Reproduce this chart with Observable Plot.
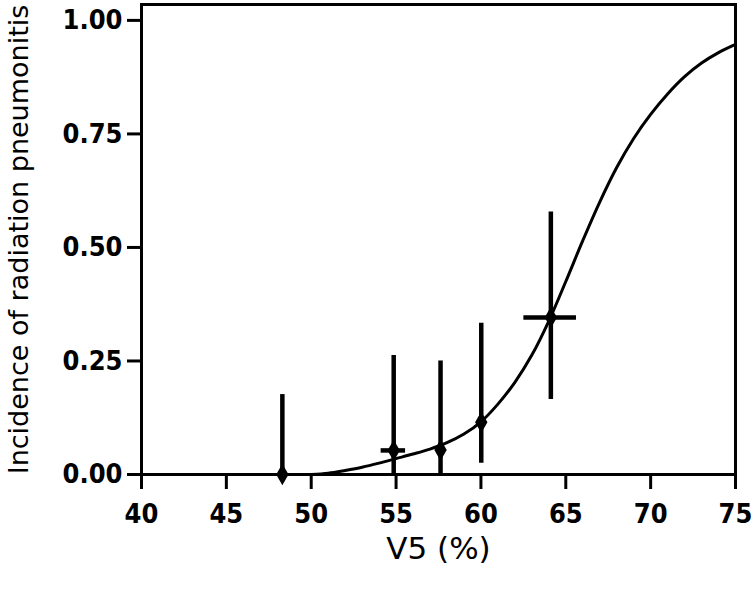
<!DOCTYPE html>
<html>
<head>
<meta charset="utf-8">
<script src="https://cdn.jsdelivr.net/npm/d3@7"></script>
<script src="https://cdn.jsdelivr.net/npm/@observablehq/plot@0.6"></script>
<style>
  html, body { margin: 0; padding: 0; background: #fff; }
  #chart svg { display: block; }
</style>
</head>
<body>
<div id="chart"></div>
<script>
// Observed groups (V5 %, incidence) with error ranges
const pointX    = [48.3, 54.86, 57.62, 60.02, 64.12];
const pointY    = [0.0, 0.053, 0.054, 0.115, 0.346];
const errLow    = [0.0, 0.0, 0.0, 0.025, 0.165];
const errHigh   = [0.176, 0.262, 0.25, 0.333, 0.578];
const xErrLow   = [null, 54.12, null, null, 62.53];
const xErrHigh  = [null, 55.56, null, null, 65.63];

// Fitted curve
const curveX = [50, 51, 52, 53, 54, 55, 56, 57, 58, 59, 60, 61, 62, 63, 64, 65, 66, 67, 68, 69, 70, 71, 72, 73, 74, 75];
const curveY = [0.000, 0.003, 0.009, 0.016, 0.025, 0.035, 0.045, 0.056, 0.070, 0.089, 0.116, 0.155, 0.203, 0.263, 0.338, 0.425, 0.515, 0.600, 0.676, 0.740, 0.793, 0.838, 0.876, 0.906, 0.929, 0.947];

const xTicks = [40, 45, 50, 55, 60, 65, 70, 75];
const yTicks = [0, 0.25, 0.5, 0.75, 1.0];
const xTitle = "V5 (%)";
const yTitle = "Incidence of radiation pneumonitis";

const points = pointX.map((x, i) => ({x, y: pointY[i], lo: errLow[i], hi: errHigh[i], xlo: xErrLow[i], xhi: xErrHigh[i]}));
const xBars = points.filter(d => d.xlo != null);
const curve = curveX.map((x, i) => ({x, y: curveY[i]}));

const tickFont = "'DejaVu Sans Condensed', 'DejaVu Sans', sans-serif";
const titleFont = "'DejaVu Sans', Verdana, sans-serif";

const chart = Plot.plot({
  width: 756,
  height: 590,
  marginLeft: 141,
  marginRight: 21,
  marginTop: 4,
  marginBottom: 116,
  style: {background: "#fff", color: "#000"},
  x: {domain: [40, 75]},
  y: {domain: [0, 1.035]},
  marks: [
    Plot.frame({stroke: "#000", strokeWidth: 3}),
    Plot.axisX({ticks: xTicks, tickFormat: d => String(d), tickSize: 15, tickPadding: 14, strokeWidth: 3,
      fontSize: 27, fontWeight: "bold", fontFamily: tickFont, label: null}),
    Plot.axisY({ticks: yTicks, tickFormat: d3.format(".2f"), tickSize: 14, tickPadding: 5, strokeWidth: 3,
      fontSize: 27, fontWeight: "bold", fontFamily: tickFont, label: null}),
    Plot.line(curve, {x: "x", y: "y", curve: "catmull-rom", stroke: "#000", strokeWidth: 3}),
    Plot.ruleX(points, {x: "x", y1: "lo", y2: "hi", stroke: "#000", strokeWidth: 4.5}),
    Plot.ruleY(xBars, {y: "y", x1: "xlo", x2: "xhi", stroke: "#000", strokeWidth: 4.5}),
    Plot.dot(points, {x: "x", y: "y", symbol: "diamond", r: 6.5, fill: "#000", stroke: "none"}),
    Plot.text([xTitle], {frameAnchor: "bottom", dy: 84, lineAnchor: "bottom", textAnchor: "middle", fontSize: 31,
      fontFamily: titleFont, fill: "#000"}),
    Plot.text([yTitle], {frameAnchor: "left", rotate: -90, dx: -133, lineAnchor: "top", textAnchor: "middle", fontSize: 27,
      fontFamily: titleFont, fill: "#000"})
  ]
});
document.getElementById("chart").appendChild(chart);
</script>
</body>
</html>
